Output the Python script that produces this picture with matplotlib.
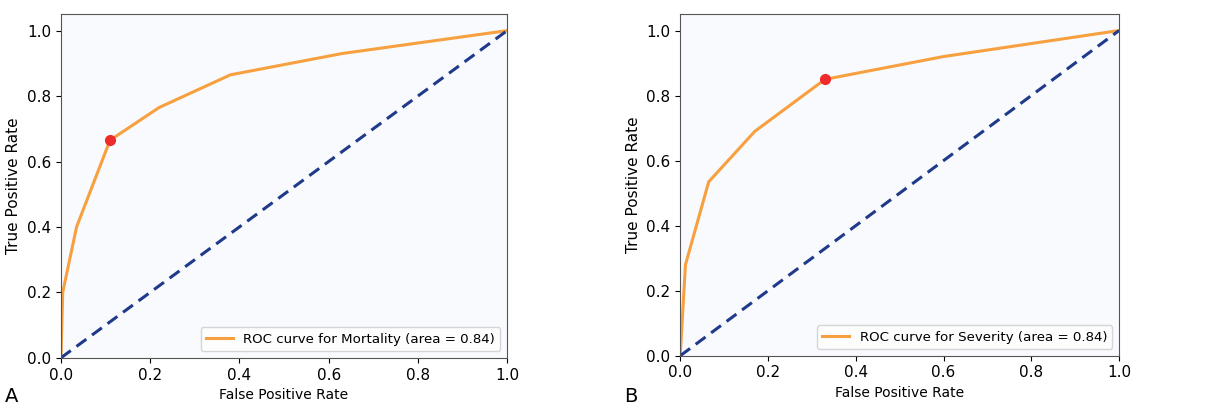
import numpy as np
import matplotlib.pyplot as plt

# ROC data
fpr_mortality = [0.0, 0.004, 0.035, 0.11, 0.22, 0.38, 0.63, 1.0]
tpr_mortality = [0.0, 0.20, 0.40, 0.665, 0.765, 0.865, 0.93, 1.0]
cut_mortality = (0.11, 0.665)

fpr_severity = [0.0, 0.012, 0.065, 0.17, 0.33, 0.60, 1.0]
tpr_severity = [0.0, 0.28, 0.535, 0.69, 0.85, 0.92, 1.0]
cut_severity = (0.33, 0.85)

panels = [
    ("A", fpr_mortality, tpr_mortality, cut_mortality, "ROC curve for Mortality (area = 0.84)"),
    ("B", fpr_severity, tpr_severity, cut_severity, "ROC curve for Severity (area = 0.84)"),
]

fig = plt.figure(figsize=(12.19, 4.08), dpi=100)
positions = [[0.050, 0.123, 0.366, 0.842], [0.558, 0.128, 0.360, 0.837]]

for pos, (tag, fpr, tpr, cut, label) in zip(positions, panels):
    ax = fig.add_axes(pos)
    ax.set_facecolor("#f9fafd")
    ax.plot(fpr, tpr, color="#f7a040", lw=2.2, label=label)
    ax.plot([0, 1], [0, 1], color="#1f3a8a", lw=2.2, linestyle=(0, (4, 2.3)))
    ax.plot(cut[0], cut[1], "o", color="#ee2a2a", markersize=7)
    ax.set_xlim(0.0, 1.0)
    ax.set_ylim(0.0, 1.05)
    ax.set_xlabel("False Positive Rate", fontsize=10)
    ax.set_ylabel("True Positive Rate", fontsize=11)
    ax.tick_params(labelsize=11)
    for s in ax.spines.values():
        s.set_color("#555555")
    leg = ax.legend(loc="lower right", fontsize=9.6, handlelength=2.0)
    leg.get_frame().set_edgecolor("#cccccc")
    fig.text(pos[0] - 0.046, 0.005, tag, fontsize=14, ha="left", va="bottom")

fig.savefig("out.png", dpi=100)
